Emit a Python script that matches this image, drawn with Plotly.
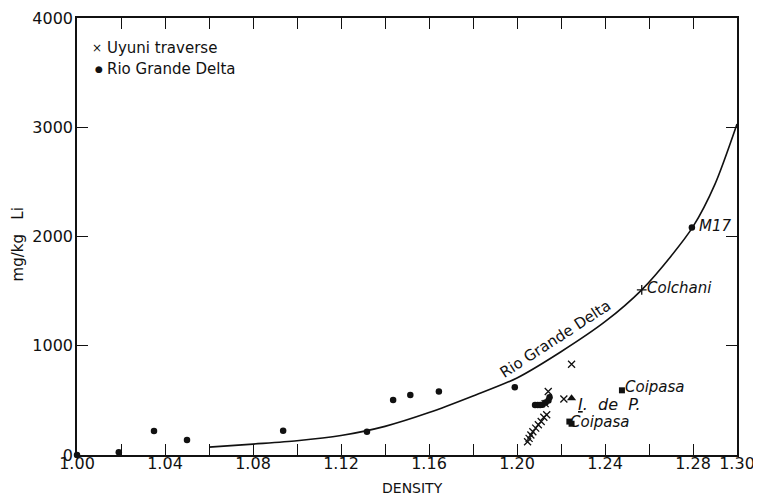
import plotly.graph_objects as go

# ---- data ----
rgd_density = [1.000, 1.019, 1.035, 1.050, 1.0937, 1.1318, 1.1437, 1.1515, 1.1645, 1.1990,
               1.2082, 1.2094, 1.2105, 1.2116, 1.2130, 1.2143, 1.2148, 1.2795]
rgd_li = [0, 25, 220, 137, 222, 212, 503, 550, 582, 621,
          457, 457, 458, 460, 481, 500, 528, 2082]

uyuni_density = [1.2048, 1.2055, 1.2063, 1.2072, 1.2085, 1.2097, 1.2110, 1.2122, 1.2135,
                 1.2128, 1.2142, 1.2213, 1.2248]
uyuni_li = [122, 152, 183, 213, 246, 277, 307, 345, 368, 470, 581, 513, 831]

coipasa_density = [1.2477, 1.2238, 1.2248]
coipasa_li = [592, 306, 286]

idp_density = [1.2248]
idp_li = [520]

colchani_density = [1.2567]
colchani_li = [1512]

curve_density = [1.06, 1.08, 1.10, 1.12, 1.14, 1.16, 1.18, 1.20, 1.22, 1.24, 1.2567, 1.27, 1.28, 1.29, 1.30]
curve_li = [72, 100, 130, 178, 262, 388, 540, 705, 945, 1220, 1512, 1820, 2090, 2480, 3030]

x_tickvals = [1.00, 1.02, 1.04, 1.06, 1.08, 1.10, 1.12, 1.14, 1.16, 1.18, 1.20, 1.22, 1.24, 1.26, 1.28, 1.30]
x_ticktext = ["1.00", "", "1.04", "", "1.08", "", "1.12", "", "1.16", "", "1.20", "", "1.24", "", "1.28", "1.30"]
y_tickvals = [0, 1000, 2000, 3000, 4000]
y_ticktext = ["0", "1000", "2000", "3000", "4000"]

FONT = "DejaVu Sans"
BLACK = "#111111"

fig = go.Figure()

fig.add_trace(go.Scatter(x=curve_density, y=curve_li, mode="lines",
                         line=dict(color=BLACK, width=1.6, shape="spline", smoothing=0.8),
                         hoverinfo="skip", showlegend=False))
fig.add_trace(go.Scatter(x=rgd_density, y=rgd_li, mode="markers", name="Rio Grande Delta",
                         marker=dict(symbol="circle", size=6.5, color=BLACK), showlegend=False,
                         cliponaxis=False))
fig.add_trace(go.Scatter(x=uyuni_density, y=uyuni_li, mode="markers", name="Uyuni traverse",
                         marker=dict(symbol="x-thin", size=7, line=dict(color=BLACK, width=1.3)),
                         showlegend=False))
fig.add_trace(go.Scatter(x=coipasa_density, y=coipasa_li, mode="markers", name="Coipasa",
                         marker=dict(symbol="square", size=6, color=BLACK), showlegend=False))
fig.add_trace(go.Scatter(x=idp_density, y=idp_li, mode="markers", name="I. de P.",
                         marker=dict(symbol="triangle-up", size=8, color=BLACK), showlegend=False))
fig.add_trace(go.Scatter(x=colchani_density, y=colchani_li, mode="markers", name="Colchani",
                         marker=dict(symbol="cross-thin", size=7, line=dict(color=BLACK, width=1.3)),
                         showlegend=False))

axis_common = dict(showline=True, linecolor=BLACK, linewidth=1.5, mirror="ticks",
                   ticks="inside", ticklen=11, tickwidth=1.3, tickcolor=BLACK,
                   showgrid=False, zeroline=False, automargin=False,
                   ticklabeloverflow="allow",
                   tickfont=dict(family=FONT, size=16, color=BLACK))

fig.update_xaxes(range=[1.00, 1.30], tickmode="array", tickvals=x_tickvals, ticktext=x_ticktext,
                 ticklabelstandoff=-7, **axis_common)
fig.update_yaxes(range=[0, 4000], tickmode="array", tickvals=y_tickvals, ticktext=y_ticktext,
                 ticklabelstandoff=-1, **axis_common)

ann = []
def label(x, y, text, italic=True, size=15, xanchor="left", xref="x", yref="y", angle=0):
    ann.append(dict(x=x, y=y, xref=xref, yref=yref, text=(f"<i>{text}</i>" if italic else text),
                    showarrow=False, xanchor=xanchor, yanchor="middle", textangle=angle,
                    font=dict(family=FONT, size=size, color=BLACK)))

label(1.2483, 618, "Coipasa")
label(1.2233, 305, "Coipasa")
label(1.2268, 458, "<u>I</u>.  de  P.", size=16)
label(1.2580, 1528, "Colchani")
label(1.2820, 2092, "M17")
label(1.2175, 1062, "Rio Grande Delta", italic=False, size=15, xanchor="center", angle=-33)

# legend (text-drawn)
label(0.031, 0.932, "×", italic=False, size=12, xanchor="center", xref="paper", yref="paper")
label(0.042, 0.932, "Uyuni traverse", italic=False, size=15, xref="paper", yref="paper")
label(0.034, 0.884, "●", italic=False, size=9, xanchor="center", xref="paper", yref="paper")
label(0.043, 0.884, "Rio Grande Delta", italic=False, size=15, xref="paper", yref="paper")

# axis titles
label(0.509, -0.076, "DENSITY", italic=False, size=14, xanchor="center", xref="paper", yref="paper")
label(-0.090, 0.481, "mg/kg   Li", italic=False, size=15, xanchor="center", xref="paper", yref="paper", angle=-90)

# page body has an 8px margin: size the figure so the plot area lands where the reference has it
fig.update_layout(width=753, height=488, margin=dict(l=69, r=24, t=10, b=41),
                  plot_bgcolor="white", paper_bgcolor="white", annotations=ann,
                  font=dict(family=FONT, color=BLACK))

fig.write_html("out.html")
